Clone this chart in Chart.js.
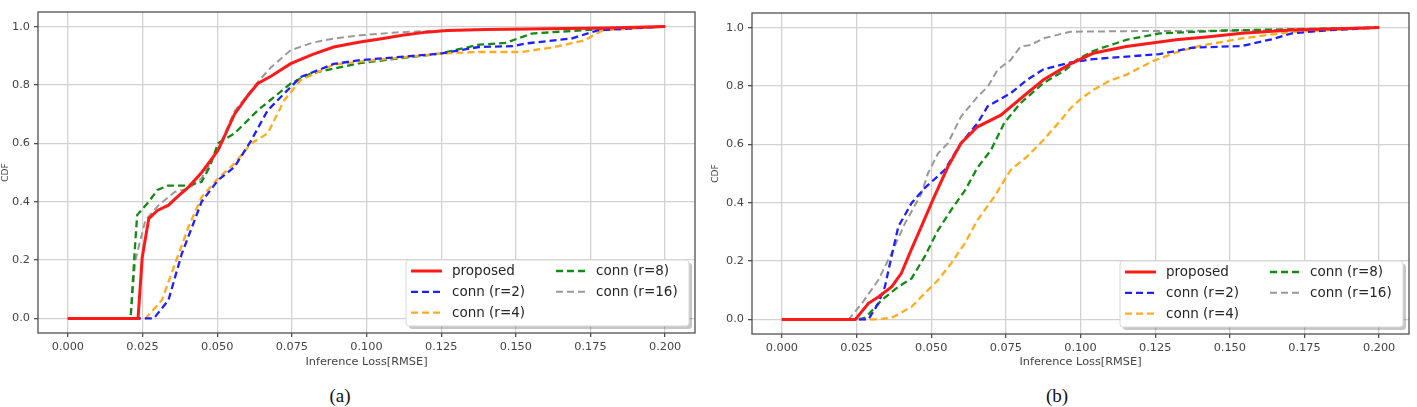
<!DOCTYPE html>
<html><head><meta charset="utf-8">
<script src="https://cdn.jsdelivr.net/npm/chart.js@4.4.0/dist/chart.umd.min.js"></script>
<style>
html,body{margin:0;padding:0;background:#fff;width:1417px;height:407px;overflow:hidden;position:relative;}
canvas{position:absolute;top:0;}
#ca{left:0;} #cb{left:710px;}
.cap{position:absolute;font-family:"Liberation Serif","DejaVu Serif",serif;font-size:19px;color:#111;transform:translate(-50%,-50%);white-space:nowrap;}
</style></head><body>
<canvas id="ca" width="700" height="375"></canvas>
<canvas id="cb" width="707" height="375"></canvas>
<div class="cap" style="left:340px;top:396px">(a)</div>
<div class="cap" style="left:1057px;top:396px">(b)</div>
<script>
// ---- labels & ticks ----
const seriesLabels = ['proposed', 'conn (r=2)', 'conn (r=4)', 'conn (r=8)', 'conn (r=16)'];
const xTicks = [0.000, 0.025, 0.050, 0.075, 0.100, 0.125, 0.150, 0.175, 0.200];
const yTicks = [0.0, 0.2, 0.4, 0.6, 0.8, 1.0];
const xTitle = 'Inference Loss[RMSE]';
const yTitle = 'CDF';

// ---- (a) series: [loss, cdf] ----
const aProposed = [[0,0],[0.0235,0],[0.0249,0.21],[0.0271,0.342],[0.030,0.37],[0.0337,0.388],[0.037,0.42],[0.0404,0.45],[0.0448,0.50],[0.0503,0.576],[0.0558,0.70],[0.060,0.76],[0.0636,0.805],[0.068,0.83],[0.0746,0.873],[0.082,0.905],[0.089,0.93],[0.0978,0.947],[0.105,0.958],[0.112,0.97],[0.120,0.981],[0.127,0.987],[0.140,0.99],[0.160,0.993],[0.180,0.995],[0.200,1.0]];
const aR2 = [[0,0],[0.0288,0],[0.0337,0.063],[0.0381,0.22],[0.0448,0.40],[0.0503,0.474],[0.0558,0.519],[0.0614,0.61],[0.0669,0.713],[0.0724,0.77],[0.0779,0.827],[0.089,0.872],[0.0978,0.885],[0.110,0.895],[0.1244,0.907],[0.1376,0.93],[0.149,0.933],[0.1531,0.942],[0.1686,0.959],[0.1774,0.987],[0.200,1.0]];
const aR4 = [[0,0],[0.026,0],[0.0315,0.063],[0.0359,0.188],[0.0404,0.314],[0.0448,0.416],[0.0503,0.48],[0.0558,0.531],[0.0614,0.60],[0.0669,0.634],[0.0724,0.747],[0.0779,0.816],[0.089,0.87],[0.0978,0.88],[0.1244,0.907],[0.1376,0.913],[0.152,0.913],[0.163,0.93],[0.173,0.953],[0.179,0.987],[0.200,1.0]];
const aR8 = [[0,0],[0.021,0],[0.0225,0.25],[0.0232,0.354],[0.0271,0.40],[0.030,0.44],[0.0335,0.455],[0.040,0.455],[0.0448,0.468],[0.0475,0.52],[0.0503,0.60],[0.0558,0.634],[0.0636,0.713],[0.0746,0.805],[0.0813,0.839],[0.0978,0.875],[0.1244,0.907],[0.1376,0.938],[0.1465,0.944],[0.1553,0.976],[0.1686,0.985],[0.176,0.99],[0.200,1.0]];
const aR16 = [[0,0],[0.021,0],[0.0226,0.2],[0.026,0.337],[0.0304,0.388],[0.0359,0.434],[0.0404,0.445],[0.0448,0.48],[0.0503,0.58],[0.0558,0.71],[0.0636,0.81],[0.068,0.86],[0.0746,0.919],[0.082,0.945],[0.089,0.959],[0.0978,0.97],[0.110,0.98],[0.119,0.984],[0.140,0.99],[0.170,0.993],[0.200,1.0]];

// ---- (b) series: [loss, cdf] ----
const bProposed = [[0,0],[0.0246,0],[0.029,0.055],[0.0323,0.077],[0.0368,0.112],[0.040,0.158],[0.0433,0.238],[0.0467,0.318],[0.051,0.42],[0.0556,0.523],[0.060,0.604],[0.0655,0.66],[0.0733,0.70],[0.0821,0.775],[0.0876,0.821],[0.0932,0.855],[0.0965,0.875],[0.1042,0.912],[0.1153,0.935],[0.132,0.958],[0.143,0.969],[0.154,0.981],[0.1707,0.992],[0.200,1.0]];
const bR2 = [[0,0],[0.029,0],[0.0323,0.055],[0.0345,0.112],[0.0367,0.215],[0.039,0.318],[0.0434,0.398],[0.0478,0.45],[0.0545,0.512],[0.060,0.604],[0.0655,0.672],[0.0689,0.73],[0.0766,0.775],[0.0821,0.821],[0.0876,0.857],[0.0965,0.88],[0.1042,0.892],[0.1264,0.909],[0.1375,0.931],[0.154,0.937],[0.164,0.96],[0.1707,0.98],[0.1817,0.99],[0.200,1.0]];
const bR4 = [[0,0],[0.031,0],[0.0367,0.005],[0.0434,0.043],[0.0478,0.089],[0.0523,0.135],[0.0567,0.192],[0.0612,0.26],[0.0655,0.34],[0.0711,0.42],[0.0766,0.512],[0.0821,0.558],[0.0876,0.615],[0.0932,0.68],[0.0965,0.722],[0.100,0.755],[0.1042,0.786],[0.1098,0.818],[0.1153,0.838],[0.1242,0.885],[0.132,0.915],[0.1398,0.937],[0.154,0.963],[0.1707,0.985],[0.200,1.0]];
const bR8 = [[0,0],[0.025,0],[0.0279,0.005],[0.0334,0.066],[0.039,0.112],[0.0434,0.14],[0.0478,0.215],[0.0523,0.306],[0.0567,0.375],[0.0615,0.445],[0.0655,0.52],[0.070,0.58],[0.0744,0.672],[0.0799,0.741],[0.0876,0.81],[0.095,0.855],[0.0987,0.889],[0.1042,0.92],[0.1153,0.958],[0.1264,0.98],[0.1486,0.99],[0.200,1.0]];
const bR16 = [[0,0],[0.0224,0],[0.0268,0.055],[0.0323,0.135],[0.0367,0.226],[0.0412,0.329],[0.0467,0.43],[0.0489,0.50],[0.0523,0.569],[0.0556,0.604],[0.060,0.695],[0.0655,0.763],[0.0689,0.797],[0.0722,0.855],[0.0766,0.889],[0.0799,0.935],[0.0832,0.94],[0.0876,0.963],[0.0965,0.986],[0.120,0.988],[0.160,0.99],[0.200,1.0]];

// ---- styles ----
const seriesStyles = [
  {color:'#ff1a1a', width:3,   dash:[]},
  {color:'#1f1fff', width:2.3, dash:[7,4]},
  {color:'#ffad1f', width:2.3, dash:[7,4]},
  {color:'#138a13', width:2.3, dash:[7,4]},
  {color:'#999999', width:2,   dash:[7,4]}
];

function makeDatasets(seriesList){
  return seriesList.map((pts,i)=>({
    label: seriesLabels[i],
    data: pts.map(p=>({x:p[0], y:p[1]})),
    borderColor: seriesStyles[i].color,
    backgroundColor: seriesStyles[i].color,
    borderWidth: seriesStyles[i].width,
    borderDash: seriesStyles[i].dash,
    pointRadius: 0, tension: 0, fill: false
  }));
}

function roundRect(ctx,x,y,w,h,r){
  ctx.beginPath();
  ctx.moveTo(x+r,y); ctx.lineTo(x+w-r,y); ctx.quadraticCurveTo(x+w,y,x+w,y+r);
  ctx.lineTo(x+w,y+h-r); ctx.quadraticCurveTo(x+w,y+h,x+w-r,y+h);
  ctx.lineTo(x+r,y+h); ctx.quadraticCurveTo(x,y+h,x,y+h-r);
  ctx.lineTo(x,y+r); ctx.quadraticCurveTo(x,y,x+r,y); ctx.closePath();
}

const framePlugin = {
  id:'frame',
  afterDatasetsDraw(chart){
    const {ctx, chartArea:a} = chart;
    ctx.save(); ctx.strokeStyle='#505050'; ctx.lineWidth=1.3;
    ctx.strokeRect(a.left, a.top, a.right-a.left, a.bottom-a.top);
    ctx.restore();
  }
};

const boxLegend = {
  id:'boxLegend',
  afterDraw(chart){
    const {ctx, chartArea:a} = chart;
    const w=283, h=66;
    const x0 = a.right - 6 - w, y0 = a.bottom - 7 - h;
    ctx.save();
    ctx.fillStyle='rgba(0,0,0,0.22)';
    roundRect(ctx, x0+3, y0+3, w, h, 3); ctx.fill();
    ctx.fillStyle='#ffffff';
    roundRect(ctx, x0, y0, w, h, 3); ctx.fill();
    ctx.strokeStyle='#d8d8d8'; ctx.lineWidth=1; ctx.stroke();
    chart.data.datasets.forEach((ds,i)=>{
      const col = Math.floor(i/3), row = i%3;
      const lx = x0 + (col ? 150 : 5), tx = x0 + (col ? 190 : 46);
      const ly = y0 + 11 + row*20.8;
      ctx.beginPath(); ctx.setLineDash(ds.borderDash);
      ctx.strokeStyle = ds.borderColor; ctx.lineWidth = ds.borderWidth;
      ctx.moveTo(lx, ly); ctx.lineTo(lx+31, ly); ctx.stroke();
      ctx.setLineDash([]);
      ctx.fillStyle='#262626'; ctx.font='13.5px "DejaVu Sans"';
      ctx.textBaseline='middle'; ctx.textAlign='left';
      ctx.fillText(ds.label, tx, ly+0.5);
    });
    ctx.restore();
  }
};

const tickFont = {family:'"DejaVu Sans", sans-serif', size:11.3};

function makeChart(id, seriesList, yWidth, padTop, padRight, xHeight){
  return new Chart(document.getElementById(id), {
    type:'line',
    data:{datasets: makeDatasets(seriesList)},
    options:{
      responsive:false, animation:false, devicePixelRatio:1,
      layout:{padding:{top:padTop, right:padRight, left:0, bottom:0}},
      plugins:{legend:{display:false}, tooltip:{enabled:false}},
      scales:{
        x:{
          type:'linear', min:-0.01, max:0.21,
          afterBuildTicks: s => { s.ticks = xTicks.map(v=>({value:v})); },
          afterFit: s => { s.height = xHeight; },
          ticks:{callback: v => Number(v).toFixed(3), font:tickFont, color:'#444', padding:3, maxRotation:0, autoSkip:false},
          grid:{color:'#d2d2d2', lineWidth:1.3, tickLength:4, tickColor:'#505050'},
          border:{display:false},
          title:{display:true, text:xTitle, font:{family:'"DejaVu Sans", sans-serif', size:11.3}, color:'#444', padding:{top:0, bottom:6}}
        },
        y:{
          type:'linear', min:-0.05, max:1.05,
          afterBuildTicks: s => { s.ticks = yTicks.map(v=>({value:v})); },
          afterFit: s => { s.width = yWidth; },
          ticks:{callback: v => Number(v).toFixed(1), font:tickFont, color:'#444', padding:4, autoSkip:false},
          grid:{color:'#d2d2d2', lineWidth:1.3, tickLength:4, tickColor:'#505050'},
          border:{display:false},
          title:{display:true, text:yTitle, font:{family:'"DejaVu Sans", sans-serif', size:9}, color:'#444', padding:{top:0, bottom:0}}
        }
      }
    },
    plugins:[framePlugin, boxLegend]
  });
}

makeChart('ca', [aProposed, aR2, aR4, aR8, aR16], 38, 12, 5, 42);
makeChart('cb', [bProposed, bR2, bR4, bR8, bR16], 42, 13, 8, 41);
</script>
</body></html>
